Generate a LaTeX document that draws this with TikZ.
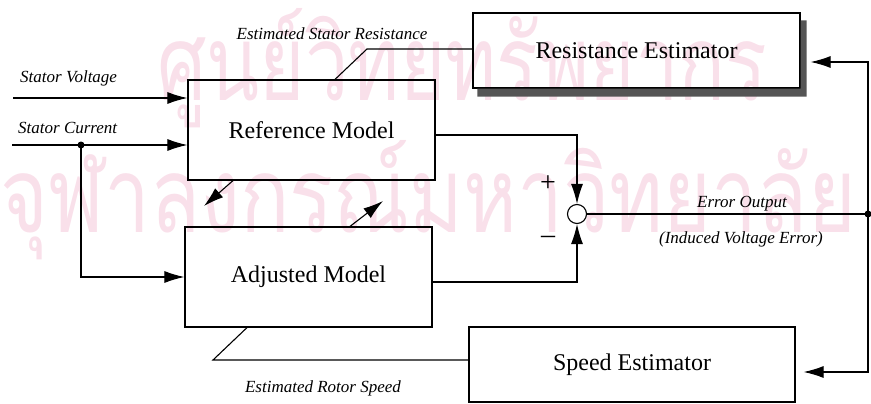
\documentclass[tikz,border=0pt]{standalone}
\usepackage{fontspec}
\setmainfont{Liberation Serif}
\newfontfamily\thaifont[Script=Thai]{Loma}
\usetikzlibrary{arrows.meta,calc}
\definecolor{wmark}{RGB}{249,224,234}
\definecolor{shadowgray}{RGB}{85,85,85}
\tikzset{
  blockbox/.style={draw, line width=1.2pt, inner sep=0pt, font=\fontsize{24}{28}\selectfont},
  conn/.style={line width=1.1pt},
  arr/.style={conn, -{Latex[length=20pt,width=12pt]}},
  lbl/.style={font=\fontsize{17}{20}\selectfont\itshape, inner sep=0pt, anchor=base},
  sign/.style={font=\fontsize{28}{32}\selectfont, inner sep=0pt},
  dotmark/.style={circle, fill=black, inner sep=0pt, minimum size=7pt},
  wmtext/.style={anchor=base west, inner sep=0pt, text=wmark},
}
\begin{document}
\begin{tikzpicture}[x=1pt,y=-1pt]
\useasboundingbox (0,0) rectangle (871,404);
% watermark
\node[wmtext] (wm1) at (157,100) {\scalebox{0.74}[1]{\fontsize{105}{115}\selectfont\thaifont ศูนย์วิทยทรัพยากร}};
\node[wmtext] (wm2) at (0,232) {\scalebox{0.78}[1]{\fontsize{105}{115}\selectfont\thaifont จุฬาลงกรณ์มหาวิทยาลัย}};
% blocks
\node[blockbox, minimum width=327pt, minimum height=75pt] (RE) at (636.5,50.5) {Resistance Estimator};
\fill[shadowgray] ($(RE.south west)+(5,0)$) -- (RE.south east) -- ($(RE.north east)+(0,8)$)
  -- ($(RE.north east)+(6,8)$) -- ($(RE.south east)+(6,8)$) -- ($(RE.south west)+(5,8)$) -- cycle;
\node[blockbox, minimum width=247pt, minimum height=100pt] (RM) at (311.5,130) {Reference Model};
\node[blockbox, minimum width=247pt, minimum height=100pt] (AM) at (308.5,277) {Adjusted Model};
\node[blockbox, minimum width=326pt, minimum height=75pt] (SE) at (632,364.5) {Speed Estimator};
\node[draw, circle, line width=1.1pt, minimum size=19pt, inner sep=0pt] (sum) at (577,214) {};
% coordinates
\coordinate (svin) at (13,98);
\coordinate (scin) at (12,145);
\coordinate (scdot) at (81,145);
\coordinate (eo) at (868,214);
\coordinate (esr) at (367,49);
\coordinate (ers) at (213,360);
% inputs
\draw[arr] (svin) -- (svin -| RM.west);
\draw[arr] (scin) -- (scin -| RM.west);
\draw[arr] (scdot) |- (AM.west);
\node[dotmark] at (scdot) {};
% model outputs to summing junction
\draw[arr] (RM.east |- 0,135) -| (sum.north);
\draw[arr] (AM.east |- 0,282) -| (sum.south);
% error output
\draw[conn] (sum.east) -- (eo);
\draw[arr] (eo) |- ($(RE.east |- 0,62)+(10,0)$);
\draw[arr] (eo) |- ($(SE.east |- 0,372)+(8,0)$);
\node[dotmark] at (eo) {};
% estimated stator resistance
\draw[conn] (RM.north -| 335,0) -- (esr) -- (esr -| RE.west);
% cross arrows
\draw[arr] (RM.south -| 233,0) -- (204,206);
\draw[arr] (AM.north -| 350,0) -- (383,201);
% estimated rotor speed
\draw[conn] (AM.south -| 247,0) -- (ers) -- (ers -| SE.west);
% labels
\node[lbl, anchor=base west] (lsv) at (20,83) {Stator Voltage};
\node[lbl, anchor=base west] (lsc) at (18,133) {Stator Current};
\node[lbl] (lesr) at (332,40) {Estimated Stator Resistance};
\node[lbl] (leo) at (742,207) {Error Output};
\node[lbl] (live) at (741,243) {(Induced Voltage Error)};
\node[lbl] (lers) at (323,392) {Estimated Rotor Speed};
\node[sign] (plus) at (548,184) {+};
\node[sign] (minus) at (548,240) {\textendash};
\end{tikzpicture}
\end{document}
